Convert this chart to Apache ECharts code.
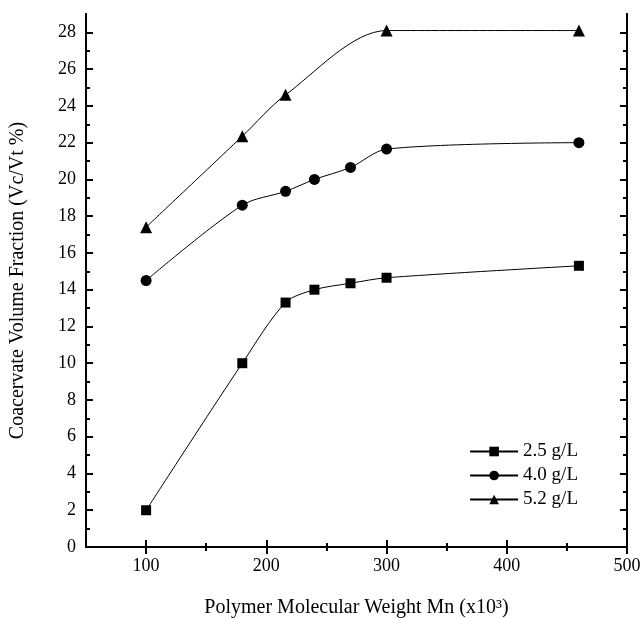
<!DOCTYPE html>
<html>
<head>
<meta charset="utf-8">
<script src="https://cdn.jsdelivr.net/npm/echarts@6/dist/echarts.min.js"></script>
<style>
  html, body { margin: 0; padding: 0; background: #fff; }
  #chart { width: 642px; height: 618px; }
</style>
</head>
<body>
<div id="chart"></div>
<script>
// Molecular weight (x10^3) and coacervate volume fraction (%) per polymer concentration
const mw25 = [100, 180, 216, 240, 270, 300, 460];
const vf25 = [2.0, 10.0, 13.3, 14.0, 14.35, 14.65, 15.3];

const mw40 = [100, 180, 216, 240, 270, 300, 460];
const vf40 = [14.5, 18.6, 19.35, 20.0, 20.65, 21.65, 22.0];

const mw52 = [100, 180, 216, 300, 460];
const vf52 = [17.4, 22.35, 24.6, 28.1, 28.1];

const seriesNames = ['2.5 g/L', '4.0 g/L', '5.2 g/L'];

const xMajor = [100, 200, 300, 400, 500];
const xMinor = [150, 250, 350, 450];
const yMajor = [0, 2, 4, 6, 8, 10, 12, 14, 16, 18, 20, 22, 24, 26, 28];
const yMinor = [1, 3, 5, 7, 9, 11, 13, 15, 17, 19, 21, 23, 25, 27];

const FONT = '"Liberation Serif", "Times New Roman", serif';
const zip = (xs, ys) => xs.map((x, i) => [x, ys[i]]);

function xAxisDef(pos, ticks, len, showLabel, name) {
  return {
    type: 'value', position: pos, min: 50, max: 500,
    name: name || '', nameLocation: 'middle', nameGap: 51,
    nameTextStyle: { fontFamily: FONT, fontSize: 20, color: '#000' },
    axisLine: { show: true, lineStyle: { color: '#000', width: 2 } },
    axisTick: { show: true, inside: true, length: len, customValues: ticks, lineStyle: { color: '#000', width: 2 } },
    axisLabel: { show: showLabel, customValues: ticks, margin: 10, fontFamily: FONT, fontSize: 18, color: '#000' },
    splitLine: { show: false }
  };
}
function yAxisDef(pos, ticks, len, showLabel, name) {
  return {
    type: 'value', position: pos, min: 0, max: 29,
    name: name || '', nameLocation: 'middle', nameGap: 58,
    nameTextStyle: { fontFamily: FONT, fontSize: 20, color: '#000' },
    axisLine: { show: true, lineStyle: { color: '#000', width: 2 } },
    axisTick: { show: true, inside: true, length: len, customValues: ticks, lineStyle: { color: '#000', width: 2 } },
    axisLabel: { show: showLabel, customValues: ticks, margin: 10, fontFamily: FONT, fontSize: 18, color: '#000' },
    splitLine: { show: false }
  };
}

function lineSeries(name, data, symbol, size) {
  return {
    name, type: 'line', xAxisIndex: 0, yAxisIndex: 0,
    data, smooth: 0.3,
    symbol, symbolSize: size,
    lineStyle: { color: '#000', width: 1 },
    itemStyle: { color: '#000' },
    emphasis: { disabled: true }
  };
}

const chart = echarts.init(document.getElementById('chart'), null, { renderer: 'canvas' });
chart.setOption({
  animation: false,
  backgroundColor: '#fff',
  grid: { left: 86, top: 14, right: 15, bottom: 71, containLabel: false, outerBoundsMode: 'none' },
  legend: {
    right: 59, top: 437, orient: 'vertical',
    itemWidth: 48, itemHeight: 12, itemGap: 5,
    textStyle: { fontFamily: FONT, fontSize: 19, color: '#000' },
    data: seriesNames
  },
  xAxis: [
    xAxisDef('bottom', xMajor, 7, true, 'Polymer Molecular Weight Mn (x10³)'),
    xAxisDef('bottom', xMinor, 4, false),
    xAxisDef('top', xMajor, 7, false),
    xAxisDef('top', xMinor, 4, false)
  ],
  yAxis: [
    yAxisDef('left', yMajor, 7, true, 'Coacervate Volume Fraction (Vc/Vt %)'),
    yAxisDef('left', yMinor, 4, false),
    yAxisDef('right', yMajor, 7, false),
    yAxisDef('right', yMinor, 4, false)
  ],
  series: [
    lineSeries(seriesNames[0], zip(mw25, vf25), 'rect', 10),
    lineSeries(seriesNames[1], zip(mw40, vf40), 'circle', 11),
    lineSeries(seriesNames[2], zip(mw52, vf52), 'triangle', 12)
  ]
});
</script>
</body>
</html>
